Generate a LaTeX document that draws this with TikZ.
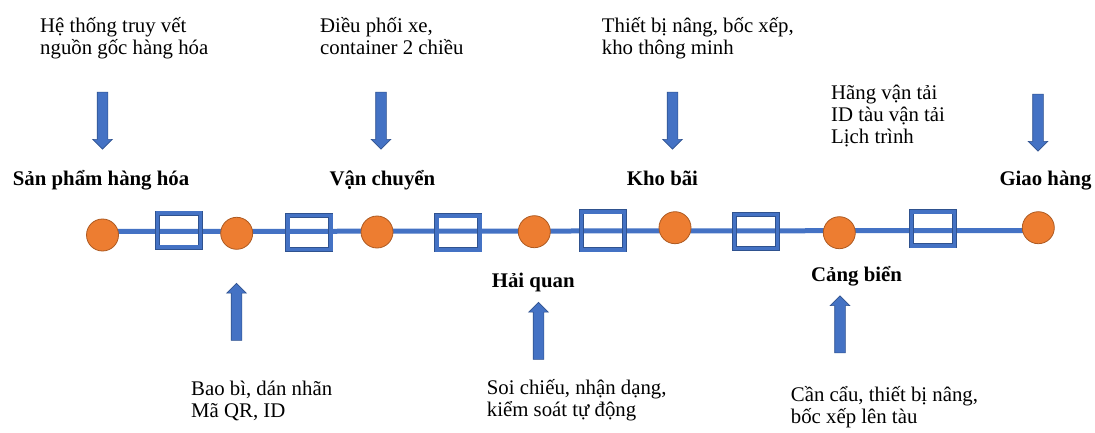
\documentclass[tikz,border=0pt]{standalone}
\usepackage{fontspec}
\setmainfont{Liberation Serif}
\usetikzlibrary{shapes.arrows, backgrounds, positioning}
\definecolor{lineblue}{HTML}{4472C4}
\definecolor{edgeblue}{HTML}{2F528F}
\definecolor{dotorange}{HTML}{ED7D31}
\definecolor{edgeorange}{HTML}{AE5A21}
\tikzset{
  hub/.style={circle, fill=dotorange, draw=edgeorange, line width=0.8pt, minimum size=32, inner sep=0},
  gatebox/.style={rectangle, draw=edgeblue, double=lineblue, double distance=3.4pt, line width=0.8pt, minimum width=43, minimum height=34, inner sep=0},
  bigarrow/.style={single arrow, fill=lineblue, draw=edgeblue, line width=0.6pt, minimum height=57, inner xsep=0, inner ysep=5, single arrow head extend=4.5, single arrow tip angle=90, outer sep=0},
  note/.style={align=left, inner sep=0, anchor=base west, font=\fontsize{20.8}{22}\selectfont},
  stage/.style={inner sep=0, anchor=base west, font=\fontsize{20.8}{22}\selectfont\bfseries}
}

\begin{document}
\begin{tikzpicture}[x=1pt, y=-1pt]
\useasboundingbox (0,0) rectangle (1095,433);

% chain stops
\node[hub] (p1) at (102.5,235) {};
\node[hub] (p2) at (236.7,233.3) {};
\node[hub] (p3) at (377,232) {};
\node[hub] (p4) at (534.3,231.7) {};
\node[hub] (p5) at (675,227.7) {};
\node[hub] (p6) at (839.3,232.7) {};
\node[hub] (p7) at (1038.3,227.7) {};

% boxes between stops
\node[gatebox] (b1) at (178.8,230) {};
\node[gatebox] (b2) at (309.4,232.5) {};
\node[gatebox] (b3) at (458.3,232.8) {};
\node[gatebox, minimum height=38] (b4) at (602.8,230.8) {};
\node[gatebox] (b5) at (756,231.2) {};
\node[gatebox] (b6) at (933.2,228.8) {};

% main line
\coordinate (lnL) at (102.5,231.5);
\coordinate (lnR) at (1038.3,230.5);
\begin{scope}[on background layer]
  \fill[white] (0,0) rectangle (1095,433);
  \draw[lineblue, line width=5] (lnL) -- (lnR);
\end{scope}

% stage names
\node[stage] (s1) at (12.7,185) {Sản phẩm hàng hóa};
\node[stage] (s2) at (329.3,185) {Vận chuyển};
\node[stage] (s3) at (626.7,185) {Kho bãi};
\node[stage] (s4) at (999.3,185) {Giao hàng};
\node[stage] (s5) at (491.7,287.3) {Hải quan};
\node[stage] (s6) at (811,281.7) {Cảng biển};

% arrows
\node[bigarrow, rotate=-90] (a1) at (102.5,118) {};
\node[bigarrow, rotate=-90] (a2) at (381,118) {};
\node[bigarrow, rotate=-90] (a3) at (672.5,118) {};
\node[bigarrow, rotate=-90] (a4) at (1038,120) {};
\node[bigarrow, rotate=90] (a5) at (236.5,314.5) {};
\node[bigarrow, rotate=90] (a6) at (538.5,333.5) {};
\node[bigarrow, rotate=90] (a7) at (840,327) {};

% notes (base = last line)
\node[note] (n1) at (40,55) {Hệ thống truy vết\\nguồn gốc hàng hóa};
\node[note] (n2) at (320,55) {Điều phối xe,\\container 2 chiều};
\node[note] (n3) at (601.7,55) {Thiết bị nâng, bốc xếp,\\kho thông minh};
\node[note] (n4) at (831,144) {Hãng vận tải\\ID tàu vận tải\\Lịch trình};
\node[note] (n5) at (191,417) {Bao bì, dán nhãn\\Mã QR, ID};
\node[note] (n6) at (486.7,416.7) {Soi chiếu, nhận dạng,\\kiểm soát tự động};
\node[note] (n7) at (790.7,423.3) {Cần cẩu, thiết bị nâng,\\bốc xếp lên tàu};

\end{tikzpicture}
\end{document}
